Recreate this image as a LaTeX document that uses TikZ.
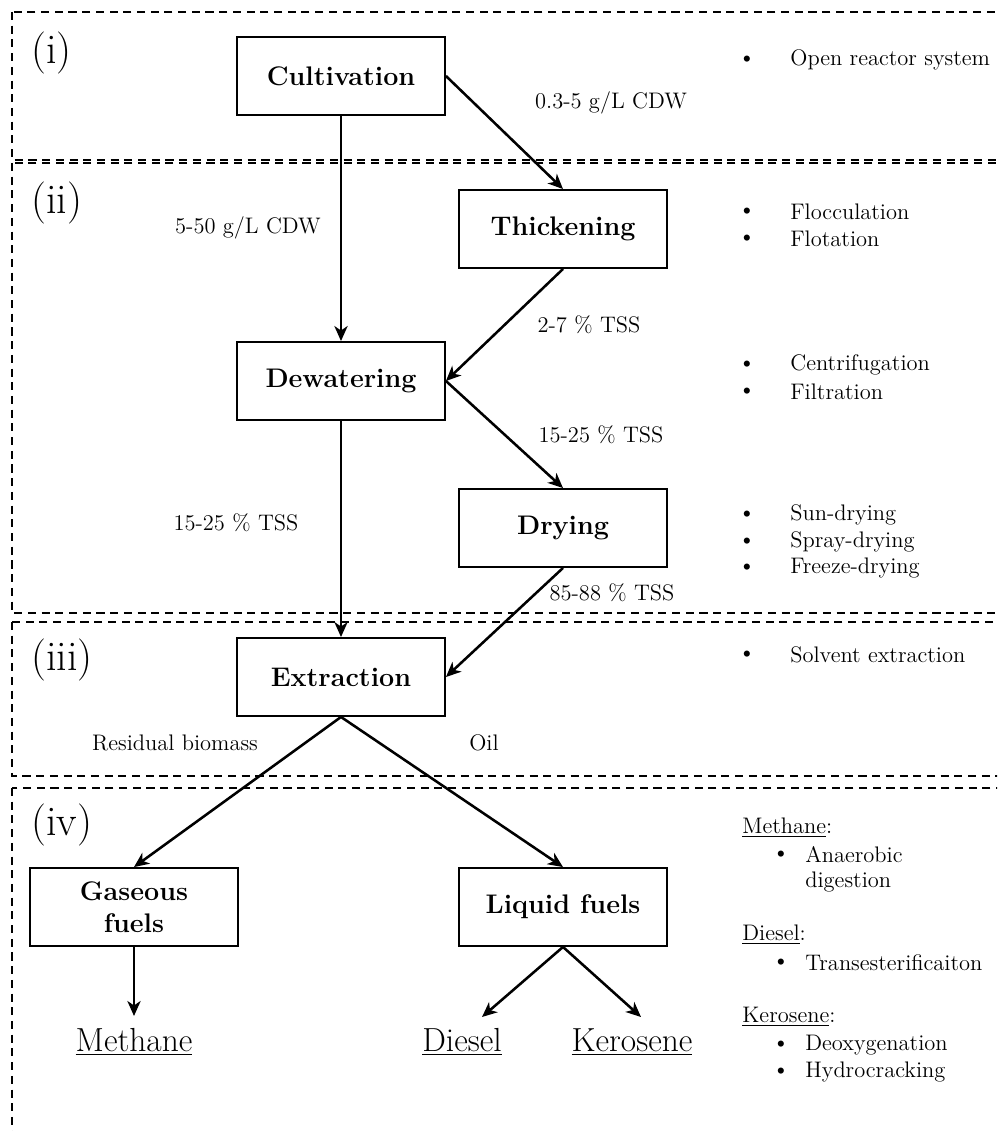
\documentclass[tikz,border=0pt]{standalone}
\usetikzlibrary{arrows.meta}

\tikzset{
  box/.style={draw, line width=1.1pt, minimum width=4.16cm, minimum height=1.56cm,
    align=center, font=\fontsize{15.3}{18.2}\selectfont\bfseries},
  flow/.style={-{Stealth[length=8.5pt,width=7.5pt,inset=2.5pt]}, line width=1.45pt},
  region/.style={line width=1pt, dash pattern=on 4.6pt off 3.2pt},
  lbl/.style={inner sep=0pt, font=\fontsize{12.8}{15}\selectfont},
  note/.style={lbl, anchor=west},
  stage/.style={inner sep=0pt, anchor=west, font=\fontsize{24}{28}\selectfont},
  product/.style={inner sep=0pt, font=\fontsize{19}{22}\selectfont},
}

\begin{document}
\begin{tikzpicture}[x=0.02cm, y=-0.02cm]
    % Page frame (the regions run off the right and bottom edges)
    \clip (0,0) rectangle (997,1131);

    % Dashed stage regions
    \draw[region] (12,12) rectangle (1020,160);
    \draw[region] (12,163) rectangle (1020,613);
    \draw[region] (12,622) rectangle (1020,776);
    \draw[region] (12,788) rectangle (1020,1160);

    \node[stage] (st1) at (31,53) {(i)};
    \node[stage] (st2) at (31,203) {(ii)};
    \node[stage] (st3) at (31,660) {(iii)};
    \node[stage] (st4) at (31,825) {(iv)};

    % Process steps
    \node[box] (cult) at (341,76) {Cultivation};
    \node[box] (thick) at (563,229) {Thickening};
    \node[box] (dew) at (341,381) {Dewatering};
    \node[box] (dry) at (563,528) {Drying};
    \node[box] (ext) at (341,677) {Extraction};
    \node[box] (gas) at (134,907) {Gaseous\\fuels};
    \node[box] (liq) at (563,907) {Liquid fuels};

    % Final products
    \node[product] (methane) at (134,1042) {\underline{Methane}};
    \node[product] (diesel) at (462,1042) {\underline{Diesel}};
    \node[product] (kero) at (632,1042) {\underline{Kerosene}};
    \coordinate (methane in) at (134,1016);
    \coordinate (diesel in) at (482,1017);
    \coordinate (kero in) at (641,1017);

    % Connectors
    \draw[flow] (cult.south) -- (dew.north);
    \draw[flow] (cult.east) -- (thick.north);
    \draw[flow] (thick.south) -- (dew.east);
    \draw[flow] (dew.east) -- (dry.north);
    \draw[flow] (dew.south) -- (ext.north);
    \draw[flow] (dry.south) -- (ext.east);
    \draw[flow] (ext.south) -- (gas.north);
    \draw[flow] (ext.south) -- (liq.north);
    \draw[flow] (gas.south) -- (methane in);
    \draw[flow] (liq.south) -- (diesel in);
    \draw[flow] (liq.south) -- (kero in);

    % Stream labels
    \node[lbl] (cdw1) at (611,103) {0.3-5 g/L CDW};
    \node[lbl] (cdw2) at (248,228) {5-50 g/L CDW};
    \node[lbl] (tss1) at (589,325) {2-7 \% TSS};
    \node[lbl] (tss2) at (601,435) {15-25 \% TSS};
    \node[lbl] (tss3) at (236,523) {15-25 \% TSS};
    \node[lbl] (tss4) at (612,593) {85-88 \% TSS};
    \node[lbl] (resid) at (175,743) {Residual biomass};
    \node[lbl] (oil) at (484,743) {Oil};

    % Methods, stages (i)--(iii)
    \foreach \y/\name/\txt in {60/open/Open reactor system,
        212/floc/Flocculation, 239/flot/Flotation,
        365/cent/Centrifugation, 392/filt/Filtration,
        515/sun/Sun-drying, 542/spray/Spray-drying, 568/freeze/Freeze-drying,
        655/solv/Solvent extraction} {
      \node[note] (\name dot) at (738,\y) {\textbullet};
      \node[note] (\name) at (790,\y) {\txt};
    }

    % Methods, stage (iv)
    \node[note] (hmeth) at (742,828) {\underline{Methane}:};
    \node[note] (hdies) at (742,935) {\underline{Diesel}:};
    \node[note] (hkero) at (742,1017) {\underline{Kerosene}:};
    \foreach \y/\name/\txt in {855/anaer/Anaerobic, 963/trans/Transesterificaiton,
        1045/deox/Deoxygenation, 1072/hydro/Hydrocracking} {
      \node[note] (\name dot) at (772,\y) {\textbullet};
      \node[note] (\name) at (805,\y) {\txt};
    }
    \node[note] (digest) at (805,882) {digestion};
\end{tikzpicture}
\end{document}
